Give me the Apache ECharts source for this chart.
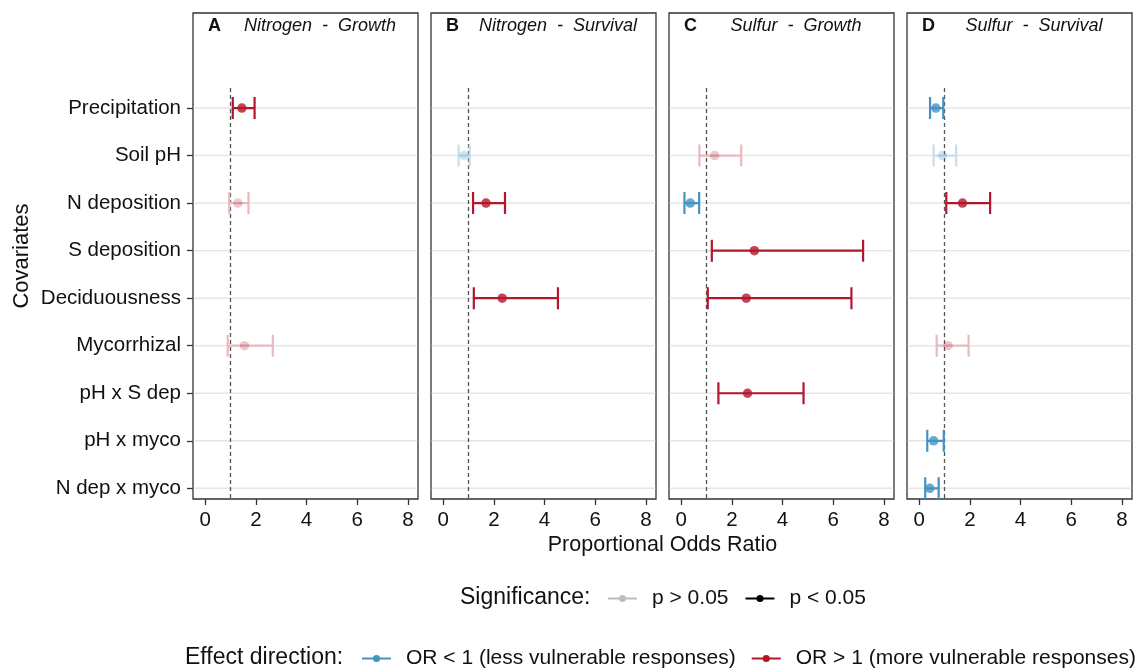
<!DOCTYPE html>
<html><head><meta charset="utf-8">
<script src="https://cdn.jsdelivr.net/npm/echarts@6/dist/echarts.min.js"></script>
<style>html,body{margin:0;padding:0;background:#fff}#c{width:1137px;height:670px}</style>
</head><body><div id="c"></div>
<script>
// ---------- data ----------
const covariates = ['Precipitation','Soil pH','N deposition','S deposition','Deciduousness','Mycorrhizal','pH x S dep','pH x myco','N dep x myco'];
const xTicks = [0, 2, 4, 6, 8];
const panelLetters = ['A', 'B', 'C', 'D'];
const panelTitles = ['Nitrogen  -  Growth', 'Nitrogen  -  Survival', 'Sulfur  -  Growth', 'Sulfur  -  Survival'];

const estA  = [1.45, null, 1.29, null, null, 1.55, null, null, null];
const lowA  = [1.09, null, 0.95, null, null, 0.89, null, null, null];
const highA = [1.95, null, 1.71, null, null, 2.67, null, null, null];
const sigA  = [1, 0, 0, 0, 0, 0, 0, 0, 0];

const estB  = [null, 0.82, 1.69, null, 2.33, null, null, null, null];
const lowB  = [null, 0.61, 1.18, null, 1.21, null, null, null, null];
const highB = [null, 1.05, 2.44, null, 4.53, null, null, null, null];
const sigB  = [0, 0, 1, 0, 1, 0, 0, 0, 0];

const estC  = [null, 1.32, 0.36, 2.89, 2.57, null, 2.62, null, null];
const lowC  = [null, 0.72, 0.13, 1.21, 1.05, null, 1.47, null, null];
const highC = [null, 2.37, 0.71, 7.18, 6.72, null, 4.83, null, null];
const sigC  = [0, 0, 1, 1, 1, 0, 1, 0, 0];

const estD  = [0.66, 0.92, 1.71, null, null, 1.14, null, 0.57, 0.42];
const lowD  = [0.43, 0.57, 1.07, null, null, 0.69, null, 0.32, 0.24];
const highD = [0.95, 1.46, 2.80, null, null, 1.95, null, 0.97, 0.77];
const sigD  = [1, 0, 1, 0, 0, 0, 0, 1, 1];

const refOR = 1;
const sigLabels = ['p > 0.05', 'p < 0.05'];
const dirLabels = ['OR < 1 (less vulnerable responses)', 'OR > 1 (more vulnerable responses)'];

// ---------- styling / layout ----------
const FONT = '"Liberation Sans", Arial, Helvetica, sans-serif';
const RED = '#B2182B', BLUE = '#4393C3';
const RED_NS_LINE = 'rgb(232,186,191)', BLUE_NS_LINE = 'rgb(199,223,237)';
const RED_NS_PT = 'rgba(178,24,43,0.3)', BLUE_NS_PT = 'rgba(67,147,195,0.3)';
const TXT = '#111';
const gridLefts = [193, 431, 669, 907];
const gridW = 225, gridTop = 13, gridH = 486;
const X_MIN = -0.48, X_MAX = 8.4, Y_MIN = 0.775, Y_MAX = 11;
const N = covariates.length;
const yPos = covariates.map((_, i) => N - i);
const panels = [
  {est: estA, low: lowA, high: highA, sig: sigA},
  {est: estB, low: lowB, high: highB, sig: sigB},
  {est: estC, low: lowC, high: highC, sig: sigC},
  {est: estD, low: lowD, high: highD, sig: sigD}
];

function lineColor(est, sig) {
  if (est < 1) return sig ? BLUE : BLUE_NS_LINE;
  return sig ? RED : RED_NS_LINE;
}
function pointColor(est, sig) {
  if (est < 1) return sig ? BLUE : BLUE_NS_PT;
  return sig ? RED : RED_NS_PT;
}

const grid = [], xAxis = [], yAxis = [], series = [], graphic = [];

panels.forEach((p, k) => {
  grid.push({left: gridLefts[k], top: gridTop, width: gridW, height: gridH,
    show: true, borderColor: '#333', borderWidth: 1.3, backgroundColor: 'transparent', containLabel: false});
  xAxis.push({type: 'value', gridIndex: k, min: X_MIN, max: X_MAX, position: 'bottom',
    axisLine: {show: false, onZero: false}, splitLine: {show: false}, minorTick: {show: false}, minorSplitLine: {show: false},
    axisTick: {show: true, customValues: xTicks, length: 6, lineStyle: {color: '#333', width: 1.3}},
    axisLabel: {customValues: xTicks, fontSize: 20.5, color: TXT, fontFamily: FONT, margin: 11}});
  if (k === 0) {
    yAxis.push({type: 'value', gridIndex: k, min: Y_MIN, max: Y_MAX, position: 'left',
      axisLine: {show: false, onZero: false}, splitLine: {show: false},
      axisTick: {show: true, customValues: yPos, length: 6, lineStyle: {color: '#333', width: 1.3}},
      axisLabel: {show: true, customValues: yPos, fontSize: 20.5, color: TXT, fontFamily: FONT, margin: 12,
        formatter: v => covariates[N - Math.round(v)] || ''}});
  } else {
    yAxis.push({type: 'value', gridIndex: k, min: Y_MIN, max: Y_MAX, position: 'left',
      axisLine: {show: false, onZero: false}, splitLine: {show: false},
      axisTick: {show: false}, axisLabel: {show: false}});
  }

  // horizontal grid lines
  series.push({type: 'custom', xAxisIndex: k, yAxisIndex: k, z: 1, silent: true, clip: true,
    data: yPos.map(y => [0, y]),
    renderItem: (params, api) => {
      const a = api.coord([X_MIN, api.value(1)]);
      const b = api.coord([X_MAX, api.value(1)]);
      return {type: 'line', shape: {x1: a[0] + 0.7, y1: a[1], x2: b[0] - 0.7, y2: b[1]},
        style: {stroke: '#e6e6e6', lineWidth: 1.5, lineCap: 'butt'}};
    }});
  // reference line at OR = 1
  series.push({type: 'custom', xAxisIndex: k, yAxisIndex: k, z: 2, silent: true, clip: true,
    data: [[refOR, 0.5, N + 0.44]],
    encode: {x: 0, y: [1, 2]},
    renderItem: (params, api) => {
      const a = api.coord([api.value(0), api.value(1)]);
      const b = api.coord([api.value(0), api.value(2)]);
      return {type: 'line', shape: {x1: a[0], y1: a[1], x2: b[0], y2: b[1]},
        style: {stroke: '#555', lineWidth: 1.3, lineDash: [4, 3]}};
    }});

  const bars = [], pts = [];
  covariates.forEach((c, i) => {
    if (p.est[i] == null) return;
    bars.push([p.low[i], p.high[i], yPos[i], p.est[i], p.sig[i]]);
    pts.push({value: [p.est[i], yPos[i]], itemStyle: {color: pointColor(p.est[i], p.sig[i])}});
  });
  // error bars
  series.push({type: 'custom', xAxisIndex: k, yAxisIndex: k, z: 3, silent: true,
    data: bars, encode: {x: [0, 1], y: 2},
    renderItem: (params, api) => {
      const lo = api.coord([api.value(0), api.value(2)]);
      const hi = api.coord([api.value(1), api.value(2)]);
      const col = lineColor(api.value(3), api.value(4));
      const h = 11;
      return {type: 'path',
        shape: {pathData: `M${lo[0]} ${lo[1] - h}L${lo[0]} ${lo[1] + h}M${lo[0]} ${lo[1]}L${hi[0]} ${hi[1]}M${hi[0]} ${hi[1] - h}L${hi[0]} ${hi[1] + h}`},
        style: {stroke: col, lineWidth: 2.2, fill: null}};
    }});
  // points
  series.push({type: 'scatter', xAxisIndex: k, yAxisIndex: k, z: 4, silent: true,
    symbol: 'circle', symbolSize: 9.5, data: pts});

  // panel titles
  graphic.push({type: 'text', x: gridLefts[k] + 15, y: 26,
    style: {text: panelLetters[k], font: `bold 18px ${FONT}`, fill: TXT, align: 'left', verticalAlign: 'middle'}});
  graphic.push({type: 'text', x: gridLefts[k] + gridW / 2 + 14.5, y: 26,
    style: {text: panelTitles[k], font: `italic 18px ${FONT}`, fill: TXT, align: 'center', verticalAlign: 'middle'}});
});

// dummy series for legends
const legendColors = {'p > 0.05': '#bdbdbd', 'p < 0.05': '#000000'};
legendColors[dirLabels[0]] = BLUE;
legendColors[dirLabels[1]] = RED;
sigLabels.concat(dirLabels).forEach(name => {
  series.push({type: 'line', name, data: [], xAxisIndex: 0, yAxisIndex: 0, symbol: 'circle',
    color: legendColors[name], lineStyle: {width: 2, color: legendColors[name]}, itemStyle: {color: legendColors[name]}});
});

graphic.push({type: 'text', x: 662.5, y: 545,
  style: {text: 'Proportional Odds Ratio', font: `21.5px ${FONT}`, fill: TXT, align: 'center', verticalAlign: 'middle'}});
graphic.push({type: 'text', x: 22, y: 256, rotation: Math.PI / 2,
  style: {text: 'Covariates', font: `22px ${FONT}`, fill: TXT, align: 'center', verticalAlign: 'middle'}});
graphic.push({type: 'text', x: 460, y: 598,
  style: {text: 'Significance:', font: `23px ${FONT}`, fill: TXT, align: 'left', verticalAlign: 'middle'}});
graphic.push({type: 'text', x: 185, y: 658,
  style: {text: 'Effect direction:', font: `23px ${FONT}`, fill: TXT, align: 'left', verticalAlign: 'middle'}});

const legendCommon = {orient: 'horizontal', itemWidth: 29, itemHeight: 9, padding: 0, selectedMode: false,
  textStyle: {fontSize: 21, color: TXT, fontFamily: FONT, padding: [0, 0, 0, 10]}};
const option = {
  animation: false,
  backgroundColor: '#fff',
  grid, xAxis, yAxis, series, graphic,
  legend: [
    Object.assign({}, legendCommon, {data: sigLabels, left: 607, top: 588, itemGap: 16}),
    Object.assign({}, legendCommon, {data: dirLabels, left: 361, top: 648, itemGap: 15})
  ]
};
const chart = echarts.init(document.getElementById('c'), null, {renderer: 'canvas'});
chart.setOption(option);
</script></body></html>
